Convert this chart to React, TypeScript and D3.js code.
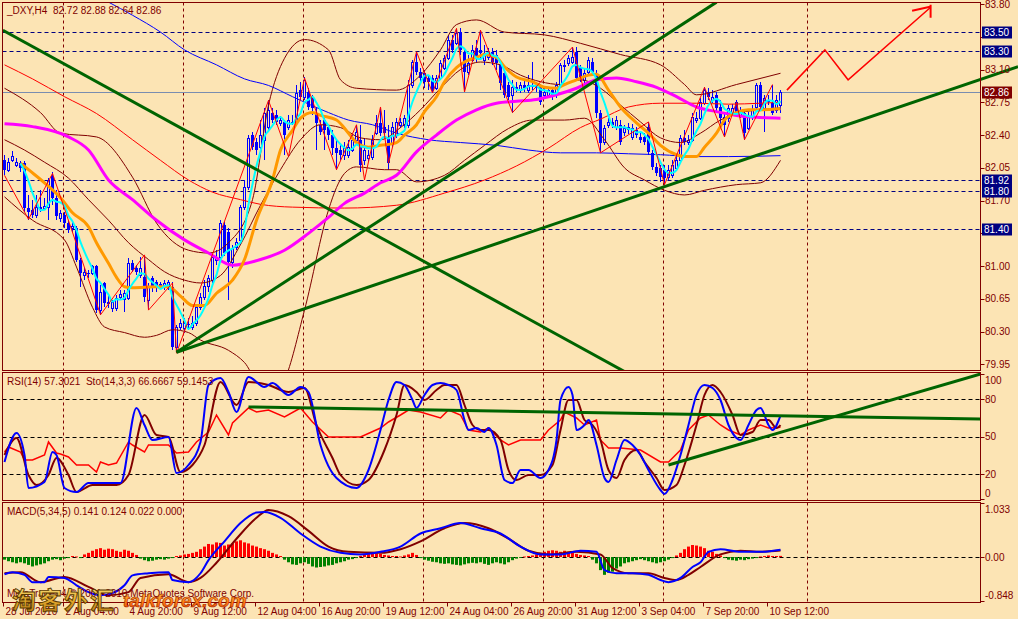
import React from 'react';
import * as d3 from 'd3';

type P = [number, number];

// ---------- DATA ----------
// H4 candles of _DXY, [open, high, low, close]; array index = bar number
const candles: number[][] = [
  [82.13,82.19,81.97,82.03],[82.03,82.15,82.00,82.11],[82.13,82.23,82.11,82.18],[82.08,82.15,82.06,82.11],[82.10,82.12,82.00,82.05],
  [82.10,82.12,81.58,81.62],[81.62,81.76,81.49,81.58],[81.60,81.71,81.51,81.55],[81.55,81.76,81.51,81.63],[81.63,81.81,81.58,81.61],
  [81.62,81.73,81.60,81.64],[81.63,81.94,81.49,81.92],[81.96,82.00,81.65,81.73],[81.73,81.81,81.49,81.54],[81.51,81.60,81.47,81.57],
  [81.55,81.58,81.41,81.46],[81.46,81.49,81.35,81.39],[81.41,81.47,81.36,81.43],[81.41,81.43,81.04,81.07],[81.07,81.09,80.78,80.93],
  [80.90,80.98,80.85,80.94],[80.93,80.96,80.87,80.92],[80.93,81.01,80.90,81.00],[81.00,81.01,80.50,80.53],[80.53,80.80,80.48,80.72],
  [80.82,80.83,80.56,80.61],[80.61,80.69,80.55,80.62],[80.55,80.64,80.51,80.62],[80.55,80.69,80.52,80.66],[80.67,80.75,80.64,80.70],
  [80.65,80.75,80.51,80.71],[80.66,81.09,80.64,81.03],[81.03,81.07,80.94,80.96],[80.98,81.01,80.90,80.94],[80.90,81.10,80.87,80.98],
  [80.88,81.10,80.62,80.67],[80.64,80.82,80.53,80.78],[80.87,80.89,80.72,80.77],[80.83,80.85,80.72,80.77],[80.81,80.83,80.76,80.79],
  [80.79,80.85,80.75,80.82],[80.78,80.85,80.75,80.83],[80.78,80.83,80.10,80.14],[80.14,80.37,80.08,80.35],[80.35,80.43,80.32,80.39],
  [80.34,80.45,80.29,80.39],[80.38,80.45,80.32,80.37],[80.35,80.47,80.32,80.39],[80.39,80.58,80.36,80.56],[80.56,80.71,80.53,80.67],
  [80.67,80.85,80.64,80.79],[80.79,80.90,80.72,80.87],[80.85,81.12,80.82,81.10],[81.07,81.17,81.01,81.10],[81.10,81.49,81.07,81.46],
  [81.44,81.47,81.11,81.14],[81.36,81.41,80.64,81.04],[81.04,81.23,80.98,81.19],[81.20,81.30,81.17,81.26],[81.28,81.65,81.23,81.63],
  [81.63,81.92,81.60,81.84],[81.84,82.40,81.81,82.37],[82.40,82.43,82.24,82.27],[82.33,82.37,82.19,82.24],[82.27,82.56,82.24,82.40],
  [82.35,82.69,82.13,82.64],[82.49,82.77,82.45,82.67],[82.64,82.69,82.53,82.56],[82.61,82.67,82.51,82.54],[82.53,82.60,82.50,82.56],
  [82.54,82.56,82.19,82.40],[82.49,82.61,82.45,82.56],[82.53,82.61,82.51,82.54],[82.53,82.94,82.51,82.85],[82.88,82.97,82.77,82.81],
  [82.81,83.02,82.77,82.99],[82.86,82.90,82.67,82.70],[82.80,82.83,82.61,82.69],[82.64,82.69,82.24,82.53],[82.51,82.56,82.40,82.43],
  [82.56,82.58,82.24,82.45],[82.49,82.51,82.35,82.40],[82.40,82.45,82.19,82.26],[82.26,82.35,82.03,82.21],[82.24,82.29,82.13,82.19],
  [82.19,82.33,82.13,82.26],[82.19,82.35,82.15,82.27],[82.24,82.40,82.22,82.35],[82.35,82.51,82.33,82.43],[82.35,82.51,82.00,82.08],
  [82.13,82.37,82.08,82.24],[82.15,82.24,82.11,82.19],[82.17,82.40,82.13,82.35],[82.42,82.61,82.40,82.53],[82.53,82.70,82.39,82.42],
  [82.49,82.67,82.40,82.42],[82.38,82.51,82.03,82.10],[82.32,82.54,82.27,82.49],[82.40,82.58,82.37,82.54],[82.51,82.58,82.48,82.54],
  [82.51,82.61,82.48,82.58],[82.51,82.99,82.48,82.94],[82.94,83.20,82.90,83.18],[83.18,83.29,83.04,83.07],[83.07,83.12,82.97,83.01],
  [83.06,83.10,82.90,82.97],[83.01,83.04,82.88,82.97],[83.01,83.04,82.85,82.88],[82.90,83.04,82.88,83.01],[83.01,83.20,82.99,83.17],
  [83.12,83.26,83.10,83.22],[83.22,83.47,83.20,83.42],[83.42,83.47,83.28,83.31],[83.38,83.53,83.36,83.49],[83.50,83.54,83.26,83.31],
  [83.29,83.33,82.86,83.07],[83.07,83.26,83.04,83.17],[83.20,83.36,83.18,83.31],[83.33,83.42,83.18,83.23],[83.31,83.52,83.22,83.28],
  [83.20,83.36,83.15,83.28],[83.23,83.33,83.20,83.29],[83.29,83.33,83.15,83.18],[83.26,83.31,83.10,83.17],[83.15,83.18,82.88,82.96],
  [83.06,83.10,82.80,82.83],[82.94,82.97,82.77,82.81],[82.83,82.99,82.64,82.91],[82.90,82.97,82.86,82.91],[82.88,82.97,82.85,82.94],
  [82.94,82.99,82.86,82.90],[82.88,83.04,82.85,82.94],[82.92,83.18,82.88,82.94],[82.92,82.97,82.86,82.90],[82.91,82.95,82.72,82.75],
  [82.83,82.90,82.80,82.86],[82.83,82.90,82.81,82.88],[82.88,82.91,82.77,82.81],[82.83,82.97,82.80,82.94],[82.94,83.17,82.90,83.15],
  [83.15,83.20,83.07,83.13],[83.17,83.26,83.14,83.22],[83.18,83.34,83.16,83.23],[83.29,83.34,82.99,83.01],[83.12,83.15,82.97,83.02],
  [82.99,83.12,82.94,83.06],[83.07,83.23,83.04,83.20],[83.18,83.22,83.04,83.07],[83.04,83.10,82.58,82.64],[82.64,82.67,82.22,82.32],
  [82.33,82.51,82.29,82.48],[82.51,82.58,82.48,82.54],[82.54,82.58,82.48,82.51],[82.49,82.60,82.45,82.56],[82.51,82.56,82.29,82.33],
  [82.43,82.51,82.39,82.48],[82.49,82.53,82.41,82.45],[82.38,82.52,82.35,82.48],[82.45,82.49,82.37,82.40],[82.38,82.43,82.32,82.35],
  [82.38,82.42,82.29,82.33],[82.49,82.54,82.19,82.22],[82.21,82.24,82.03,82.06],[82.06,82.10,81.96,81.99],[82.05,82.08,81.90,81.95],
  [82.03,82.08,81.87,81.94],[81.95,82.08,81.92,82.03],[81.97,82.13,81.94,82.08],[82.05,82.19,82.03,82.13],[82.13,82.40,82.11,82.37],
  [82.37,82.45,82.29,82.33],[82.33,82.40,82.29,82.35],[82.35,82.64,82.33,82.59],[82.56,82.65,82.53,82.58],[82.58,82.80,82.56,82.75],
  [82.74,82.91,82.72,82.88],[82.86,82.90,82.77,82.81],[82.77,82.88,82.74,82.81],[82.83,82.86,82.65,82.69],[82.70,82.77,82.51,82.58],
  [82.59,82.65,82.38,82.51],[82.58,82.72,82.54,82.69],[82.64,82.73,82.60,82.69],[82.75,82.77,82.61,82.65],[82.61,82.70,82.58,82.65],
  [82.64,82.67,82.35,82.42],[82.48,82.65,82.45,82.59],[82.59,82.72,82.56,82.67],[82.70,82.96,82.67,82.94],[82.94,82.97,82.67,82.70],
  [82.69,82.83,82.43,82.80],[82.77,82.83,82.72,82.75],[82.74,82.94,82.61,82.64],[82.67,82.83,82.64,82.77],[82.72,82.88,82.64,82.86],
];

const xLabels: [number, string][] = [
  [0, '28 Jul 2010'], [15, '2 Aug 04:00'], [31, '4 Aug 20:00'], [47, '9 Aug 12:00'], [63, '12 Aug 04:00'],
  [79, '16 Aug 20:00'], [95, '19 Aug 12:00'], [111, '24 Aug 04:00'], [127, '26 Aug 20:00'], [143, '31 Aug 12:00'],
  [159, '3 Sep 04:00'], [175, '7 Sep 20:00'], [191, '10 Sep 12:00'],
];
const gridBars = [15, 45, 75, 105, 135, 165, 201];
// price scale: [value, label shown?] — 83.45 and 81.35 sit under the level boxes
const priceTicks: [number, boolean][] = [[83.8, true], [83.45, false], [83.1, true], [82.75, true], [82.4, true], [82.05, true], [81.7, true], [81.35, false], [81.0, true], [80.65, true], [80.3, true], [79.95, true]];
const levelLines = [83.5, 83.3, 81.92, 81.8, 81.4];
const bidPrice = 82.86;
const rsiLevels = [80, 50, 20];
const rsiTickLabels: [number, string][] = [[100, '100'], [80, '80'], [50, '50'], [20, '20'], [0, '0']];
const macdTickLabels: [number, string][] = [[1.033, '1.033'], [0, '0.00'], [-0.848, '-0.848']];

// moving averages [bar, price]
const orangeMA: P[] = [[4,82.10],[6,82.03],[10,81.89],[14,81.73],[17,81.57],[21,81.42],[23,81.25],[26,81.03],[28,80.88],[30,80.78],[32,80.77],[38,80.78],[41,80.78],[44,80.68],[47,80.58],[50,80.58],[53,80.71],[57,80.85],[60,81.07],[63,81.49],[67,81.92],[69,82.24],[72,82.45],[74,82.58],[77,82.64],[79,82.61],[83,82.56],[86,82.42],[88,82.32],[91,82.27],[94,82.29],[98,82.32],[100,82.40],[103,82.51],[105,82.65],[108,82.81],[110,82.97],[113,83.12],[115,83.18],[118,83.23],[120,83.26],[123,83.23],[125,83.13],[128,83.02],[132,82.97],[135,82.91],[138,82.90],[140,82.94],[143,82.99],[146,83.04],[148,83.05],[151,82.88],[154,82.70],[158,82.53],[161,82.42],[164,82.29],[168,82.19],[170,82.17],[173,82.17],[175,82.27],[178,82.42],[180,82.56],[183,82.64],[186,82.67],[189,82.67],[194,82.68]];
const magentaMA: P[] = [[0,82.52],[7,82.49],[16,82.38],[21,82.24],[26,81.92],[32,81.71],[38,81.49],[45,81.28],[51,81.14],[57,81.01],[64,81.07],[70,81.17],[76,81.35],[81,81.52],[85,81.67],[90,81.78],[94,81.89],[98,81.97],[103,82.22],[108,82.40],[113,82.56],[118,82.67],[123,82.74],[128,82.76],[133,82.78],[138,82.83],[143,82.90],[148,82.99],[153,83.01],[158,82.97],[163,82.91],[168,82.81],[173,82.70],[178,82.65],[183,82.61],[188,82.59],[194,82.58]];
const blueMA: P[] = [[20,83.95],[26,83.82],[32,83.68],[39,83.50],[45,83.31],[53,83.15],[60,83.00],[66,82.93],[72,82.81],[81,82.64],[86,82.56],[92,82.51],[98,82.42],[106,82.35],[114,82.32],[123,82.29],[131,82.24],[139,82.21],[148,82.21],[156,82.20],[164,82.19],[173,82.17],[181,82.17],[194,82.18]];
const redMA: P[] = [[0,83.15],[7,83.00],[15,82.81],[23,82.63],[32,82.35],[39,82.13],[46,81.92],[52,81.79],[59,81.71],[64,81.66],[72,81.63],[85,81.62],[98,81.65],[110,81.78],[120,81.92],[128,82.07],[136,82.26],[144,82.48],[149,82.57],[156,82.70],[164,82.74],[173,82.74],[181,82.73],[189,82.74],[194,82.75]];
const bbUpper: P[] = [[0,82.90],[9,82.64],[14,82.42],[23,82.38],[32,81.95],[38,81.46],[46,81.17],[51,81.14],[56,81.25],[62,81.71],[66,82.72],[70,83.22],[75,83.42],[81,83.31],[84,82.99],[88,82.90],[98,82.88],[104,83.04],[109,83.31],[113,83.58],[118,83.63],[125,83.50],[135,83.47],[144,83.38],[154,83.26],[164,83.15],[170,82.94],[173,82.83],[183,82.94],[194,83.06]];
const bbMiddle: P[] = [[0,82.35],[5,82.24],[10,82.11],[16,81.94],[21,81.71],[26,81.49],[31,81.25],[36,81.07],[40,80.94],[45,80.85],[49,80.82],[54,80.90],[59,81.23],[64,81.65],[69,82.03],[74,82.35],[79,82.51],[84,82.48],[89,82.37],[94,82.35],[99,82.48],[104,82.67],[109,82.90],[114,83.10],[119,83.18],[124,83.15],[129,83.04],[134,82.97],[139,82.94],[144,82.99],[149,82.90],[154,82.72],[159,82.54],[164,82.37],[169,82.32],[174,82.42],[179,82.56],[184,82.64],[189,82.67],[194,82.69]];
const bbLower: P[] = [[0,81.74],[7,81.49],[15,81.28],[18,80.99],[22,80.56],[25,80.35],[30,80.29],[35,80.24],[38,80.26],[42,80.32],[46,80.29],[49,80.21],[56,80.10],[60,79.97],[66,79.57],[70,79.78],[75,80.53],[81,81.60],[83,81.84],[85,81.99],[88,82.06],[95,82.03],[98,82.03],[103,81.90],[110,81.97],[115,82.13],[120,82.29],[126,82.47],[132,82.56],[140,82.56],[145,82.58],[150,82.35],[155,82.05],[160,81.92],[165,81.81],[170,81.76],[175,81.81],[183,81.87],[189,81.89],[194,82.13]];
const zigzag: P[] = [[0,81.97],[6,81.50],[12,81.99],[24,80.48],[35,81.12],[36,80.53],[42,80.82],[43,80.07],[66,82.77],[71,82.17],[75,83.01],[83,82.03],[88,82.51],[90,81.92],[94,82.70],[96,82.10],[103,83.29],[107,82.85],[113,83.54],[115,82.86],[119,83.52],[127,82.64],[142,83.34],[149,82.21],[161,82.54],[165,81.87],[175,82.91],[180,82.38],[183,82.75],[185,82.35],[192,82.94]];

// objects drawn on the chart [bar, price]
const trendDown: P[] = [[-0.4, 83.52], [156, 79.85]];
const trendSteep: P[] = [[43, 80.08], [178, 83.82]];
const trendShallow: P[] = [[43, 80.08], [253.4, 83.13]];
const forecastArrow: P[] = [[195.6, 82.88], [205.1, 83.31], [210.9, 82.99], [231.4, 83.76]];

// RSI / Stochastic [bar, value]
const rsi: P[] = [[0,37.6],[1,41.6],[4,37.6],[5,31.2],[7,31.2],[10,35.2],[11,45.6],[13,36.8],[14,36],[16,33.6],[18,27.2],[21,27.2],[23,21.6],[24,29.6],[26,27.2],[28,28.8],[31,45.6],[32,43.2],[35,37.6],[36,43.2],[41,43.2],[43,36.8],[46,37.6],[48,45.6],[51,53.6],[53,67.2],[56,51.2],[57,60.8],[61,72.8],[63,69.6],[66,71.2],[70,65.6],[74,72.8],[77,61.6],[81,49.6],[84,49.6],[89,49.6],[94,56.8],[96,61.6],[99,67.2],[101,71.2],[104,69.6],[109,64.8],[111,71.2],[114,67.2],[116,55.2],[119,53.6],[121,56.8],[124,47.2],[126,43.2],[129,47.2],[134,47.2],[136,55.2],[139,63.2],[140,69.6],[143,64.8],[145,59.2],[148,63.2],[149,47.2],[151,40.8],[154,40.8],[159,39.2],[164,29.6],[166,29.6],[169,39.2],[171,55.2],[174,64.8],[176,67.2],[179,59.2],[181,55.2],[184,51.2],[186,55.2],[189,59.2],[191,56.8],[194,57.3]];
const stochMain: P[] = [[0,29.6],[3,52.8],[5,35.2],[6,8.8],[10,13.6],[12,37.6],[13,35.2],[15,8.8],[18,5.6],[21,12.8],[26,12.8],[29,12.8],[33,72.8],[35,59.2],[37,47.2],[41,49.6],[43,20.8],[46,27.2],[49,45.6],[51,91.2],[54,96.8],[56,85.6],[58,69.6],[61,97.6],[65,89.6],[67,92.8],[71,83.2],[74,89.6],[76,85.6],[79,43.2],[83,16.8],[88,8.8],[91,23.2],[94,55.2],[96,79.2],[98,93.6],[100,91.2],[102,79.2],[103,72.8],[105,83.2],[107,91.2],[109,92.8],[111,91.2],[113,87.2],[115,63.2],[116,55.2],[118,56.8],[120,53.6],[121,56.8],[123,43.2],[125,15.2],[127,12.8],[129,23.2],[131,23.2],[134,16.8],[136,23.2],[138,47.2],[139,79.2],[141,89.6],[142,83.2],[143,55.2],[145,59.2],[146,63.2],[148,43.2],[150,16.8],[151,13.6],[153,31.2],[155,47.2],[157,43.2],[159,35.2],[161,23.2],[164,7.2],[165,4],[167,15.2],[169,35.2],[171,59.2],[173,83.2],[175,91.2],[177,88.8],[179,79.2],[181,59.2],[183,48.8],[184,47.2],[186,59.2],[188,71.2],[189,72.8],[191,59.2],[192,55.2],[194,66.67]];
const stochSignal: P[] = [[0,35.2],[3,48.8],[6,19.2],[8,11.2],[11,19.2],[13,32.8],[16,19.2],[18,5.6],[22,11.2],[28,11.2],[31,19.2],[35,67.2],[38,51.2],[41,49.6],[44,21.6],[47,27.2],[50,43.2],[54,93.6],[58,75.2],[61,93.6],[66,91.2],[71,85.6],[75,88.8],[78,59.2],[82,32.8],[84,19.2],[88,11.2],[91,15.2],[95,39.2],[98,67.2],[100,91.2],[103,85.6],[105,79.2],[108,87.2],[110,91.2],[113,91.2],[115,75.2],[117,59.2],[119,55.2],[121,55.2],[124,47.2],[126,23.2],[128,15.2],[131,19.2],[134,19.2],[137,27.2],[139,55.2],[141,79.2],[143,79.2],[145,63.2],[147,59.2],[149,47.2],[151,23.2],[153,16.8],[155,31.2],[158,39.2],[160,29.6],[163,16.8],[165,7.2],[168,11.2],[170,27.2],[173,59.2],[175,83.2],[177,91.2],[179,85.6],[182,67.2],[184,51.2],[187,53.6],[189,63.2],[191,63.2],[193,56.8],[194,59.15]];
const rsiTrendA: P[] = [[61, 73.6], [244, 64]];
const rsiTrendB: P[] = [[166, 27.2], [244, 100]];

// MACD(5,34,5)
const macdHist: number[] = [
  -0.05,-0.08,-0.10,-0.12,-0.10,-0.12,-0.15,-0.18,-0.16,-0.14,
  -0.12,-0.08,-0.05,-0.04,-0.06,-0.03,-0.02,0.02,0.01,-0.02,
  0.05,0.08,0.12,0.15,0.17,0.14,0.16,0.15,0.12,0.10,
  0.14,0.12,0.08,0.04,-0.03,-0.06,-0.08,-0.07,-0.05,-0.04,
  -0.05,-0.03,-0.02,0.02,0.03,0.05,0.06,0.08,0.10,0.15,
  0.20,0.25,0.24,0.28,0.27,0.22,0.24,0.26,0.30,0.32,
  0.28,0.26,0.22,0.20,0.17,0.15,0.12,0.08,0.05,0.02,
  -0.05,-0.10,-0.14,-0.15,-0.12,-0.10,-0.13,-0.18,-0.20,-0.19,
  -0.18,-0.16,-0.15,-0.12,-0.10,-0.08,-0.05,-0.04,-0.02,0.02,
  0.04,0.06,0.08,0.07,0.06,0.04,0.03,0.02,0.02,0.01,
  0.03,0.05,0.08,0.04,-0.02,-0.05,-0.07,-0.09,-0.10,-0.12,
  -0.13,-0.12,-0.14,-0.15,-0.16,-0.14,-0.12,-0.11,-0.12,-0.10,
  -0.13,-0.15,-0.12,-0.10,-0.12,-0.14,-0.10,-0.06,-0.03,-0.01,
  0.01,0.02,0.03,0.05,0.08,0.10,0.12,0.13,0.12,0.10,
  0.12,0.10,0.08,0.06,0.04,0.03,0.02,-0.05,-0.12,-0.25,
  -0.34,-0.30,-0.28,-0.22,-0.18,-0.12,-0.10,-0.08,-0.06,-0.04,
  -0.06,-0.08,-0.10,-0.12,-0.10,-0.08,-0.05,-0.02,0.03,0.08,
  0.15,0.20,0.23,0.22,0.20,0.17,0.12,0.10,0.06,0.03,
  -0.02,-0.05,-0.06,-0.07,-0.05,-0.06,-0.04,-0.03,-0.02,0.01,
  0.02,0.03,0.02,0.02,0.022,
];
const macdMain: P[] = [[0,-0.33],[2,-0.29],[5,-0.34],[7,-0.48],[10,-0.48],[11,-0.38],[15,-0.40],[18,-0.54],[21,-0.67],[24,-0.73],[27,-0.69],[30,-0.54],[32,-0.35],[36,-0.31],[41,-0.29],[42,-0.44],[46,-0.48],[49,-0.31],[51,-0.06],[55,0.30],[59,0.65],[63,0.85],[65,0.86],[69,0.75],[74,0.45],[79,0.20],[84,0.08],[89,0.05],[94,0.10],[99,0.20],[104,0.45],[109,0.55],[114,0.65],[119,0.55],[124,0.45],[129,0.20],[134,0.05],[139,0.05],[144,0.12],[148,0.10],[150,-0.25],[153,-0.31],[157,-0.31],[161,-0.34],[164,-0.44],[166,-0.48],[169,-0.40],[172,-0.19],[174,-0.10],[176,0.10],[179,0.15],[184,0.10],[189,0.10],[194,0.141]];
const macdSignal: P[] = [[0,-0.31],[4,-0.29],[9,-0.48],[15,-0.38],[21,-0.57],[26,-0.73],[31,-0.67],[34,-0.40],[41,-0.33],[46,-0.48],[49,-0.40],[53,-0.11],[58,0.35],[63,0.75],[66,0.90],[71,0.78],[76,0.50],[81,0.20],[86,0.10],[94,0.08],[99,0.15],[104,0.30],[110,0.55],[115,0.65],[121,0.55],[126,0.35],[131,0.12],[136,0.05],[143,0.10],[149,0.05],[152,-0.21],[156,-0.31],[161,-0.31],[165,-0.40],[168,-0.44],[171,-0.34],[174,-0.19],[179,0.05],[184,0.12],[189,0.10],[194,0.124]];

const headerMain = '_DXY,H4\u00a0\u00a082.72 82.88 82.64 82.86';
const headerRsi = 'RSI(14) 57.3021\u00a0\u00a0Sto(14,3,3) 66.6667 59.1453';
const headerMacd = 'MACD(5,34,5) 0.141 0.124 0.022 0.000';
const copyright = 'MetaTrader 4 © 2001-2010 MetaQuotes Software Corp.';

// ---------- STYLE ----------
const BG = '#FCE4B4';
const MAROON = '#800000';
const NAVY = '#000080';
const FONT = "'Liberation Sans', Arial, sans-serif";

export default function App() {
  const x = d3.scaleLinear().domain([0, 194]).range([4.5, 780.5]);
  const yP = d3.scaleLinear().domain([79.95, 83.8]).range([364.4, 4]);
  const yR = d3.scaleLinear().domain([0, 100]).range([499, 374]);
  const yM = d3.scaleLinear().domain([-0.848, 1.033]).range([601.4, 503]);

  const mk = (ys: d3.ScaleLinear<number, number>, curve: d3.CurveFactory = d3.curveMonotoneX) =>
    d3.line<P>().x(d => x(d[0])).y(d => ys(d[1])).curve(curve);
  const lp = mk(yP);
  const lpLin = mk(yP, d3.curveLinear);
  const lr = mk(yR);
  const lrLin = mk(yR, d3.curveLinear);
  const lm = mk(yM);

  const cyan: P[] = candles
    .map((_, i) => (i < 4 ? null : [i, d3.mean(candles.slice(i - 4, i + 1), c => c[3]) as number] as P))
    .filter((d): d is P => d !== null);

  const left = 2.5, right = 980.5;
  const main = { t: 2.5, b: 370.5 };
  const rsiP = { t: 372.5, b: 500.5 };
  const macdP = { t: 502.5, b: 602.5 };
  const tickX = (i: number) => Math.round(x(i) - 1.5) + 0.5;

  return (
    <div style={{ position: 'absolute', left: 0, top: 0 }}>
      <svg width={1018} height={619} style={{ display: 'block', background: BG }} fontFamily={FONT}>
        <defs>
          <clipPath id="cMain"><rect x={3} y={3} width={977} height={367} /></clipPath>
          <clipPath id="cMainWide"><rect x={3} y={3} width={1015} height={367} /></clipPath>
          <clipPath id="cRsi"><rect x={3} y={373} width={977} height={127} /></clipPath>
          <clipPath id="cMacd"><rect x={3} y={503} width={977} height={99} /></clipPath>
          <linearGradient id="gold" x1="0" y1="0" x2="0" y2="1">
            <stop offset="0" stopColor="#FFF2A0" />
            <stop offset="0.5" stopColor="#E8B030" />
            <stop offset="1" stopColor="#B07010" />
          </linearGradient>
          <linearGradient id="orng" x1="0" y1="0" x2="0" y2="1">
            <stop offset="0" stopColor="#FFD040" />
            <stop offset="0.6" stopColor="#FF7A10" />
            <stop offset="1" stopColor="#E04000" />
          </linearGradient>
        </defs>
        <rect x={0} y={0} width={1018} height={619} fill={BG} />

        {/* vertical grid */}
        {gridBars.map(b => (
          <g key={'g' + b} stroke={MAROON} strokeDasharray="3,3" strokeWidth={1}>
            <line x1={tickX(b)} x2={tickX(b)} y1={main.t} y2={main.b} />
            <line x1={tickX(b)} x2={tickX(b)} y1={rsiP.t} y2={rsiP.b} />
            <line x1={tickX(b)} x2={tickX(b)} y1={macdP.t} y2={macdP.b} />
          </g>
        ))}

        {/* MAIN PANEL */}
        <g clipPath="url(#cMain)">
          {levelLines.map(p => (
            <line key={'lv' + p} x1={left} x2={right} y1={Math.round(yP(p)) + 0.5} y2={Math.round(yP(p)) + 0.5}
              stroke={NAVY} strokeDasharray="4,3" />
          ))}
          <line x1={left} x2={right} y1={Math.round(yP(bidPrice)) + 0.5} y2={Math.round(yP(bidPrice)) + 0.5} stroke="#7A8DB0" />

          {candles.map((c, i) => {
            const [o, h, l, cl] = c;
            const cx = x(i);
            const yo = Math.round(yP(o)), yc = Math.round(yP(cl));
            const top = Math.min(yo, yc), bot = Math.max(yo, yc);
            const bull = cl >= o;
            return (
              <g key={'c' + i}>
                <line x1={cx} x2={cx} y1={Math.round(yP(h))} y2={Math.round(yP(l))} stroke="#0000FF" />
                {bull ? (
                  <rect x={cx - 1} y={top + 0.5} width={2} height={Math.max(bot - top, 1)} fill={BG} stroke="#0000FF" />
                ) : (
                  <rect x={cx - 1.5} y={top} width={3} height={Math.max(bot - top, 1)} fill="#0000FF" />
                )}
              </g>
            );
          })}

          <g fill="none">
            <path d={lp(bbUpper) || ''} stroke={MAROON} strokeWidth={1} />
            <path d={lp(bbMiddle) || ''} stroke={MAROON} strokeWidth={1} />
            <path d={lp(bbLower) || ''} stroke={MAROON} strokeWidth={1} />
            <path d={lp(blueMA) || ''} stroke="#0000FF" strokeWidth={1} />
            <path d={lp(redMA) || ''} stroke="#FF0000" strokeWidth={1} />
            <path d={lp(magentaMA) || ''} stroke="#FF00FF" strokeWidth={3} />
            <path d={lp(orangeMA) || ''} stroke="#FF9900" strokeWidth={3} />
            <path d={lp(cyan) || ''} stroke="#00FFFF" strokeWidth={2} />
            <path d={lpLin(zigzag) || ''} stroke="#FF0000" strokeWidth={1} />
            <path d={lpLin(trendDown) || ''} stroke="#006400" strokeWidth={3} />
            <path d={lpLin(trendSteep) || ''} stroke="#006400" strokeWidth={3} />
          </g>
        </g>
        {/* shallow trend line runs past the price scale */}
        <g clipPath="url(#cMainWide)">
          <path d={lpLin(trendShallow) || ''} stroke="#006400" strokeWidth={3} fill="none" />
        </g>
        {/* forecast arrow */}
        <g fill="none" stroke="#FF0000" strokeWidth={1.5}>
          <path d={lpLin(forecastArrow) || ''} />
          {(() => {
            const e = forecastArrow[forecastArrow.length - 1];
            const ex = x(e[0]), ey = yP(e[1]);
            return (
              <>
                <line x1={ex - 18} y1={ey + 3} x2={ex} y2={ey - 1} strokeWidth={2} />
                <line x1={ex + 0.5} y1={ey - 3} x2={ex + 0.5} y2={ey + 10} strokeWidth={2} />
              </>
            );
          })()}
        </g>

        {/* RSI PANEL */}
        <g clipPath="url(#cRsi)">
          {rsiLevels.map(v => (
            <line key={'rl' + v} x1={left} x2={right} y1={Math.round(yR(v)) + 0.5} y2={Math.round(yR(v)) + 0.5}
              stroke="#000000" strokeDasharray="4,3" />
          ))}
          <g fill="none">
            <path d={lrLin(rsi) || ''} stroke="#FF0000" strokeWidth={1.5} />
            <path d={lr(stochSignal) || ''} stroke={MAROON} strokeWidth={2} />
            <path d={lr(stochMain) || ''} stroke="#0000FF" strokeWidth={2} />
            <path d={lrLin(rsiTrendA) || ''} stroke="#006400" strokeWidth={3} />
            <path d={lrLin(rsiTrendB) || ''} stroke="#006400" strokeWidth={3} />
          </g>
        </g>

        {/* MACD PANEL */}
        <g clipPath="url(#cMacd)">
          <line x1={left} x2={right} y1={Math.round(yM(0)) + 0.5} y2={Math.round(yM(0)) + 0.5} stroke="#000000" strokeDasharray="4,3" />
          {macdHist.map((v, i) => {
            const y0 = yM(0), y1 = yM(v);
            return (
              <rect key={'h' + i} x={x(i) - 1.5} y={Math.min(y0, y1)} width={3} height={Math.max(Math.abs(y1 - y0), 0.8)}
                fill={v >= 0 ? '#FF0000' : '#008000'} />
            );
          })}
          <g fill="none">
            <path d={lm(macdSignal) || ''} stroke={MAROON} strokeWidth={2} />
            <path d={lm(macdMain) || ''} stroke="#0000FF" strokeWidth={2} />
          </g>
        </g>

        {/* frames */}
        <g fill="none" stroke={MAROON} strokeWidth={1}>
          <rect x={left} y={main.t} width={right - left} height={main.b - main.t} />
          <rect x={left} y={rsiP.t} width={right - left} height={rsiP.b - rsiP.t} />
          <rect x={left} y={macdP.t} width={right - left} height={macdP.b - macdP.t} />
        </g>

        {/* price axis */}
        <g fontSize={10} fill={MAROON}>
          {priceTicks.map(([p, show]) => (
            <g key={'pt' + p}>
              <line x1={right} x2={right + 4} y1={Math.round(yP(p)) + 0.5} y2={Math.round(yP(p)) + 0.5} stroke={MAROON} />
              {show && <text x={985} y={yP(p)} dominantBaseline="central">{p.toFixed(2)}</text>}
            </g>
          ))}
          {levelLines.map(p => (
            <g key={'lb' + p}>
              <rect x={982} y={Math.round(yP(p)) - 5.5} width={30} height={12} fill={NAVY} />
              <text x={984} y={yP(p) + 0.5} dominantBaseline="central" fill="#FFFFFF">{p.toFixed(2)}</text>
            </g>
          ))}
          <rect x={982} y={Math.round(yP(bidPrice)) - 5.5} width={30} height={12} fill={MAROON} />
          <text x={984} y={yP(bidPrice) + 0.5} dominantBaseline="central" fill="#FFFFFF">{bidPrice.toFixed(2)}</text>

          {rsiTickLabels.map(([v, s]) => (
            <g key={'rt' + v}>
              <line x1={right} x2={right + 4} y1={Math.round(yR(v)) + 0.5} y2={Math.round(yR(v)) + 0.5} stroke={MAROON} />
              <text x={985} y={v === 100 ? yR(v) + 6 : v === 0 ? yR(v) - 6 : yR(v)} dominantBaseline="central">{s}</text>
            </g>
          ))}
          {macdTickLabels.map(([v, s]) => (
            <g key={'mt' + v}>
              <line x1={right} x2={right + 4} y1={Math.round(yM(v)) + 0.5} y2={Math.round(yM(v)) + 0.5} stroke={MAROON} />
              <text x={985} y={v > 0.9 ? yM(v) + 6 : v < -0.8 ? yM(v) - 6 : yM(v)} dominantBaseline="central">{s}</text>
            </g>
          ))}

          {/* time axis */}
          {xLabels.map(([b, s]) => (
            <g key={'xl' + b}>
              <line x1={tickX(b)} x2={tickX(b)} y1={macdP.b} y2={macdP.b + 4} stroke={MAROON} />
              <text x={tickX(b) + 2} y={615}>{s}</text>
            </g>
          ))}

          {/* headers */}
          <text x={7} y={14}>{headerMain}</text>
          <text x={7} y={385}>{headerRsi}</text>
          <text x={7} y={515}>{headerMacd}</text>
          <text x={7} y={597}>{copyright}</text>
        </g>

        {/* watermark */}
        <g>
          <text x={12} y={609} fontSize={24} fontWeight="bold" fontFamily="'Noto Sans CJK SC', sans-serif"
            fill="url(#gold)" stroke="#5A3A00" strokeWidth={0.9} letterSpacing={2}>淘客外汇</text>
          <text x={123} y={607} fontSize={19} fontWeight="bold" fontStyle="italic" fontFamily="'Liberation Sans', Arial, sans-serif"
            fill="url(#orng)" stroke="#A02000" strokeWidth={0.6}>talkforex.com</text>
        </g>
      </svg>
    </div>
  );
}
